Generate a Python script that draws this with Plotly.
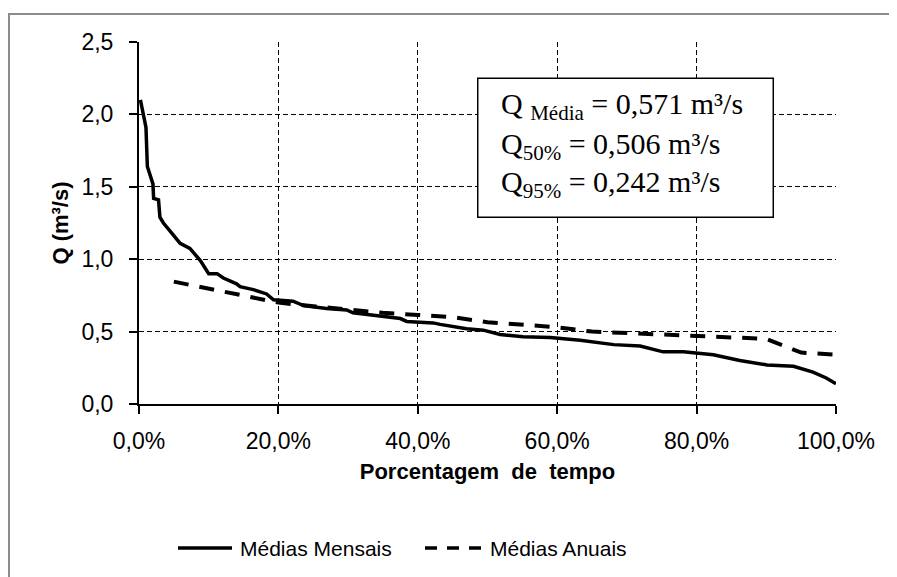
import plotly.graph_objects as go

# Curva de permanencia - medias mensais
tempo_mensal = [0.002, 0.006, 0.010, 0.012, 0.020, 0.021, 0.028, 0.030, 0.035, 0.047,
                0.059, 0.073, 0.088, 0.100, 0.112, 0.121, 0.140, 0.145, 0.164, 0.183,
                0.193, 0.221, 0.236, 0.269, 0.298, 0.307, 0.341, 0.351, 0.375, 0.384,
                0.422, 0.432, 0.470, 0.494, 0.518, 0.551, 0.590, 0.633, 0.681, 0.719,
                0.752, 0.781, 0.824, 0.862, 0.901, 0.939, 0.967, 0.986, 1.000]
q_mensal = [2.10, 2.00, 1.91, 1.64, 1.52, 1.42, 1.41, 1.29, 1.25, 1.18,
            1.11, 1.075, 0.99, 0.90, 0.90, 0.87, 0.83, 0.81, 0.79, 0.76,
            0.72, 0.71, 0.68, 0.66, 0.65, 0.63, 0.61, 0.60, 0.59, 0.57,
            0.56, 0.55, 0.52, 0.51, 0.48, 0.465, 0.46, 0.44, 0.41, 0.40,
            0.36, 0.36, 0.34, 0.30, 0.27, 0.26, 0.22, 0.18, 0.14]

# Medias anuais
tempo_anual = [0.05, 0.10, 0.15, 0.20, 0.25, 0.30, 0.35, 0.40, 0.45, 0.50,
               0.55, 0.60, 0.65, 0.70, 0.75, 0.80, 0.85, 0.90, 0.95, 1.00]
q_anual = [0.845, 0.795, 0.745, 0.70, 0.675, 0.65, 0.63, 0.615, 0.60, 0.565,
           0.545, 0.53, 0.50, 0.49, 0.48, 0.475, 0.465, 0.45, 0.355, 0.34]

series_nomes = ['Médias Mensais', 'Médias Anuais']
estatisticas = ['Q <sub>Média</sub> = 0,571 m³/s',
                'Q<sub>50%</sub> = 0,506 m³/s',
                'Q<sub>95%</sub> = 0,242 m³/s']

sans = 'Liberation Sans, Arial, sans-serif'
serif = 'Liberation Serif, Times New Roman, serif'

fig = go.Figure()
fig.add_trace(go.Scatter(x=tempo_mensal, y=q_mensal, mode='lines', name=series_nomes[0],
                         line=dict(color='black', width=3.5), showlegend=False))
fig.add_trace(go.Scatter(x=tempo_anual, y=q_anual, mode='lines', name=series_nomes[1],
                         line=dict(color='black', width=4, dash='15px,11px'), showlegend=False))

eixo = dict(showline=True, linecolor='black', linewidth=2, ticks='outside', ticklen=8,
            tickwidth=1.5, tickcolor='black', showgrid=True, gridcolor='black',
            gridwidth=1.3, griddash='5px,3px', zeroline=False, mirror=False,
            tickfont=dict(family=sans, size=23, color='black'))

fig.update_xaxes(range=[0, 1], tickvals=[0, 0.2, 0.4, 0.6, 0.8, 1.0], tickformat='.1%',
                 ticklabelstandoff=7,
                 title=dict(text='<b>Porcentagem  de  tempo</b>', standoff=11,
                            font=dict(family=sans, size=22, color='black')), **eixo)
fig.update_yaxes(range=[0, 2.5], dtick=0.5, tickformat='.1f', ticklabelstandoff=11,
                 title=dict(text='<b>Q (m³/s)</b>', standoff=7,
                            font=dict(family=sans, size=22, color='black')), **eixo)

# caixa com as vazoes caracteristicas
fig.add_shape(type='rect', xref='x', yref='y', x0=0.486, x1=0.910, y0=1.29, y1=2.25,
              line=dict(color='black', width=1.5), fillcolor='white', layer='above')
for i, txt in enumerate(estatisticas):
    fig.add_annotation(x=0.5165, y=[2.06, 1.78, 1.52][i], xref='x', yref='y', text=txt,
                       showarrow=False, xanchor='left', yanchor='middle',
                       font=dict(family=serif, size=30, color='black'))

# legenda desenhada abaixo do grafico
fig.add_shape(type='line', xref='paper', yref='paper', x0=(178 - 139) / 697, x1=(232 - 139) / 697,
              y0=(404 - 548) / 362, y1=(404 - 548) / 362, line=dict(color='black', width=3.5))
fig.add_shape(type='line', xref='paper', yref='paper', x0=(425 - 139) / 697, x1=(483 - 139) / 697,
              y0=(404 - 548) / 362, y1=(404 - 548) / 362,
              line=dict(color='black', width=3.5, dash='12px,10px'))
for nome, px0 in zip(series_nomes, [238, 488]):
    fig.add_annotation(x=(px0 - 139) / 697, y=(404 - 548) / 362, xref='paper', yref='paper',
                       text=nome, showarrow=False, xanchor='left', yanchor='middle',
                       font=dict(family=sans, size=21, color='black'))

# borda cinza da area do grafico
fig.add_shape(type='rect', xref='paper', yref='paper', x0=(9 - 139) / 697, x1=2,
              y0=-2, y1=(404 - 14) / 362, line=dict(color='#8c8c8c', width=2))

# a pagina tem 8px de margem no body, por isso as margens ficam 8px menores
fig.update_layout(width=897, height=577, separators=',.',
                  margin=dict(l=131, r=69, t=34, b=181),
                  plot_bgcolor='white', paper_bgcolor='white',
                  font=dict(family=sans, color='black'))

fig.write_html('out.html')
